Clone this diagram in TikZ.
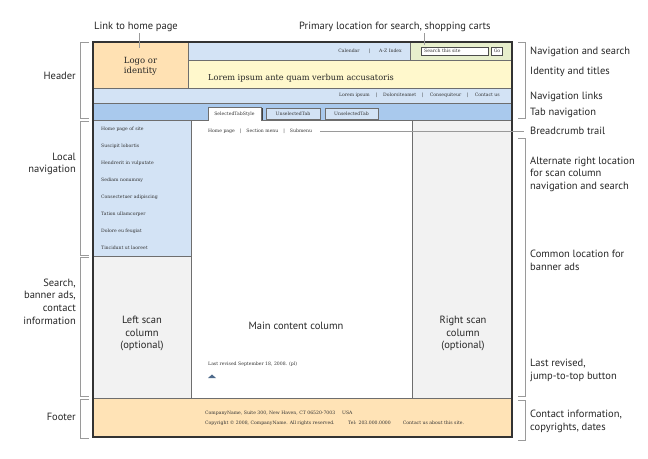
\documentclass[tikz,border=0pt]{standalone}
\usepackage{fontspec}
\setmainfont{DejaVu Serif}
\newfontfamily\lblfont{PT Sans}
\definecolor{logoor}{HTML}{FFE1B3}
\definecolor{ltblue}{HTML}{D3E3F5}
\definecolor{tabblue}{HTML}{A9C9ED}
\definecolor{srchgreen}{HTML}{E7EFCC}
\definecolor{idyellow}{HTML}{FFF8CC}
\definecolor{colgray}{HTML}{F2F2F2}
\definecolor{footor}{HTML}{FFE3B6}
\definecolor{bord}{HTML}{6E6E6E}
\definecolor{brk}{HTML}{9A9A9A}
\definecolor{tri}{HTML}{4F6B8C}
\definecolor{txt}{HTML}{333333}
\newcommand\LBrk[2]{\draw[brk] (89,#1) -- (80,#1) -- (80,#2) -- (89,#2);}
\newcommand\RBrk[2]{\draw[brk] (518,#1) -- (525,#1) -- (525,#2) -- (518,#2);}
\begin{document}
\begin{tikzpicture}[x=1pt,y=-1pt,
  lblL/.style={font=\lblfont\fontsize{10.5}{12.7}\selectfont, text=black!85, inner sep=0, align=right, anchor=base east},
  lblR/.style={font=\lblfont\fontsize{10.5}{12.7}\selectfont, text=black!85, inner sep=0, align=left, anchor=base west},
  lblC/.style={font=\lblfont\fontsize{10.5}{12.7}\selectfont, text=black!85, inner sep=0, align=center, anchor=base},
  tiny/.style={font=\fontsize{4.6}{5.5}\selectfont, text=txt, inner sep=0},
  tinyw/.style={tiny, anchor=west},
  sep/.style={line width=0.7pt, draw=bord}]
\useasboundingbox (0,0) rectangle (648,458);
% fills
\fill[logoor] (93,42) rectangle (188,88);
\fill[ltblue] (188,42) rectangle (410,60);
\fill[srchgreen] (410,42) rectangle (512,60);
\fill[idyellow] (188,60) rectangle (512,88);
\fill[ltblue] (93,88) rectangle (512,103);
\fill[tabblue] (93,103) rectangle (512,120);
\fill[ltblue] (93,120) rectangle (191,256);
\fill[colgray] (93,256) rectangle (191,398);
\fill[white] (191,120) rectangle (412,398);
\fill[colgray] (412,120) rectangle (512,398);
\fill[footor] (93,398) rectangle (512,437);
% separators
\draw[sep] (188,42) -- (188,88);
\draw[sep] (410,42) -- (410,60);
\draw[sep] (188,60) -- (512,60);
\draw[sep] (93,88) -- (512,88);
\draw[sep] (93,103) -- (512,103);
\draw[sep] (93,120) -- (208,120);
\draw[sep] (261,120) -- (512,120);
\draw[sep] (191,120) -- (191,398);
\draw[sep] (93,256) -- (191,256);
\draw[sep] (412,120) -- (412,398);
\draw[sep] (93,398) -- (512,398);
% tabs
\draw[sep, fill=white] (208,120.5) -- (208,107) -- (261,107) -- (261,120.5);
\draw[line width=0.9pt, black!75] (262.5,108) -- (262.5,120);
\draw[sep, fill=ltblue] (266,108) rectangle (320,119.5);
\draw[sep, fill=ltblue] (325,108) rectangle (378,119.5);
\node[tiny] (tab1) at (234.5,114) {SelectedTabStyle};
\node[tiny] (tab2) at (293,114) {UnselectedTab};
\node[tiny] (tab3) at (351.5,114) {UnselectedTab};
% frame
\draw[line width=1.1pt, black!80] (93,42) rectangle (512,437);
% search
\draw[line width=0.8pt, black!70, fill=white] (421.5,47) rectangle (488,55);
\node[tinyw] (srch) at (424,51) {Search this site};
\draw[line width=0.8pt, black!70, fill=white] (491.5,47) rectangle (502.5,55);
\node[tiny] (go) at (497,51) {Go};
% header texts
\node[tiny, anchor=east] (cal) at (402,51.5) {Calendar\hspace{9pt}|\hspace{9pt}A-Z Index};
\node[font=\fontsize{8.5}{10}\selectfont, text=black!85, align=center, inner sep=0] (logo) at (140.5,66) {Logo or\\identity};
\node[font=\fontsize{8.2}{10}\selectfont, text=black!85, anchor=west, inner sep=0] (ident) at (208,78.3) {Lorem ipsum ante quam verbum accusatoris};
\node[tiny, anchor=east] (navl) at (500,95.7) {Lorem ipsum\hspace{6pt}|\hspace{6pt}Dolorsiteamet\hspace{6pt}|\hspace{6pt}Consequiteur\hspace{6pt}|\hspace{6pt}Contact us};
% local nav
\node[tinyw] (n1) at (101,129.5) {Home page of site};
\node[tinyw] (n2) at (101,146.5) {Suscipit lobortis};
\node[tinyw] (n3) at (101,163.5) {Hendrerit in vulputate};
\node[tinyw] (n4) at (101,180.5) {Sediam nonummy};
\node[tinyw] (n5) at (101,197.5) {Consectetuer adipiscing};
\node[tinyw] (n6) at (101,214.5) {Tation ullamcorper};
\node[tinyw] (n7) at (101,231.5) {Dolore eu feugiat};
\node[tinyw] (n8) at (101,248) {Tincidunt ut laoreet};
% breadcrumb
\node[tinyw] (crumb) at (208,131) {Home page\hspace{5pt}|\hspace{5pt}Section menu\hspace{5pt}|\hspace{5pt}Submenu};
% column labels (base anchor = last line)
\node[lblC] (lscan) at (142,348.9) {Left scan\\column\\(optional)};
\node[lblC] (main) at (296,329.5) {Main content column};
\node[lblC] (rscan) at (463,348.9) {Right scan\\column\\(optional)};
% last revised
\node[tinyw] (rev) at (208,364.5) {Last revised September 18, 2008. (pl)};
\fill[tri] (208,378) -- (212,374.5) -- (216,378) -- cycle;
% footer
\node[tinyw] (f1) at (205,413.3) {CompanyName, Suite 300, New Haven, CT 06520-7003};
\node[tinyw] (f1b) at (342,413.3) {USA};
\node[tinyw] (f2) at (205,422.8) {Copyright \textcopyright{} 2008, CompanyName. All rights reserved.};
\node[tinyw] (f2b) at (348,422.8) {Tel: 203.000.0000};
\node[tinyw] (f2c) at (402.7,422.8) {Contact us about this site.};
% top labels
\node[lblR] (homelbl) at (94,29.5) {Link to home page};
\node[lblR] (primlbl) at (299,29.5) {Primary location for search, shopping carts};
\coordinate (h1) at (139.5,33);
\coordinate (h2) at (139.5,48);
\draw[brk] (h1) -- (h2);
\coordinate (p1) at (424,33);
\coordinate (p2) at (424,45);
\draw[brk] (p1) -- (p2);
% left labels
\node[lblL] (hdr) at (76,79.5) {Header};
\node[lblL] (lnav) at (76,172.7) {Local\\navigation};
\node[lblL] (sban) at (76,324.1) {Search,\\banner ads,\\contact\\information};
\node[lblL] (foot) at (76,420.8) {Footer};
\LBrk{42}{118.5}
\LBrk{121}{255}
\LBrk{257.5}{396.5}
\LBrk{399.5}{438}
% right labels
\node[lblR] (r1) at (530,54.5) {Navigation and search};
\node[lblR] (r2) at (530,74.5) {Identity and titles};
\node[lblR] (r3) at (530,99) {Navigation links};
\node[lblR] (r4) at (530,115) {Tab navigation};
\node[lblR] (r5) at (530,134.5) {Breadcrumb trail};
\node[lblR] (r6) at (530,189.4) {Alternate right location\\for scan column\\navigation and search};
\node[lblR] (r7) at (530,270.2) {Common location for\\banner ads};
\node[lblR] (r8) at (530,379.2) {Last revised,\\jump-to-top button};
\node[lblR] (r9) at (530,430.2) {Contact information,\\copyrights, dates};
\RBrk{42}{118}
\RBrk{138}{396.5}
\RBrk{400}{440}
\draw[brk] ([xshift=8pt]crumb.east) -- ([xshift=-6pt]crumb.east -| r5.west);
\end{tikzpicture}
\end{document}
